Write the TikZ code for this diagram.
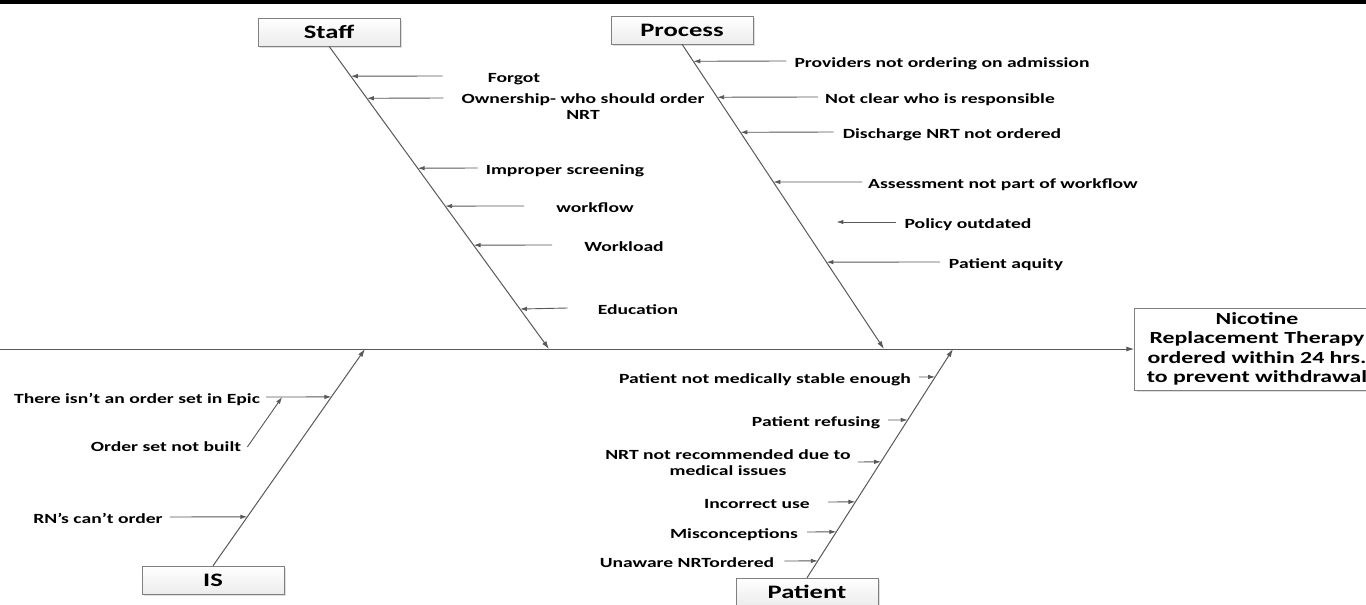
\documentclass[tikz,border=0pt]{standalone}
\usepackage{fontspec}
\setmainfont{Carlito}[FakeStretch=1.4]
\usetikzlibrary{arrows.meta, positioning, calc, shadows}
\definecolor{bonegray}{RGB}{89, 89, 89}
\definecolor{boxline}{RGB}{128, 128, 128}

\begin{document}
\begin{tikzpicture}[
    x=1pt, y=-1pt,
    cat/.style={rectangle, draw=boxline, top color=white, bottom color=gray!15, minimum width=142pt, minimum height=28pt, font=\fontsize{19}{22}\selectfont\bfseries, drop shadow={shadow xshift=2pt, shadow yshift=-2pt, opacity=0.25}},
    effect/.style={rectangle, draw=boxline, fill=white, minimum width=245pt, minimum height=82pt, align=center, font=\fontsize{17}{19.5}\selectfont\bfseries, drop shadow={shadow xshift=2pt, shadow yshift=-2pt, opacity=0.25}},
    cause/.style={font=\fontsize{14}{16}\selectfont\bfseries, inner sep=0pt, text height=12pt, text depth=0pt},
    cause2/.style={font=\fontsize{14}{16}\selectfont\bfseries, align=center, inner sep=0pt},
    bone/.style={-{Latex[length=8pt, width=5pt]}, line width=1pt, bonegray},
    arrow/.style={-{Latex[length=7pt, width=4.5pt]}, line width=0.9pt, bonegray}
  ]
  \useasboundingbox[fill=white] (0,0) rectangle (1366,605);
  \fill[black] (0,0) rectangle (1366,4);

  % Categories and effect
  \node[cat] (staff) at (329,32) {Staff};
  \node[cat] (proc) at (682,30) {Process};
  \node[cat] (is) at (213,580) {IS};
  \node[cat] (pat) at (807,592) {Patient};
  \node[effect] (eff) at (1257,349) {Nicotine\\Replacement Therapy\\ordered within 24 hrs.\\to prevent withdrawal};

  % Spine and bones
  \coordinate (tail) at (0,349);
  \coordinate (stE) at (549,349);
  \coordinate (prE) at (884,349);
  \coordinate (isE) at (365,349);
  \coordinate (paE) at (953,349);
  \draw[bone] (tail) -- (eff);
  \draw[bone] (staff.south) -- (stE);
  \draw[bone] (proc.south) -- (prE);
  \draw[bone] (is.north) -- (isE);
  \draw[bone] (pat.north) -- (paE);

  % Staff
  \node[cause] (forgot) at (514,76) {Forgot};
  \node[cause2] (own) at (583,107) {Ownership- who should order\\NRT};
  \node[cause] (screen) at (565,168) {Improper screening};
  \node[cause] (wflow) at (595,206) {workflow};
  \node[cause] (wload) at (624,245) {Workload};
  \node[cause] (edu) at (638,308) {Education};
  \draw[arrow] ([xshift=-45pt]forgot.west) -- ($(staff.south)!.099!(stE)$);
  \draw[arrow] ([shift={(-18,-9)}]own.west) -- ($(staff.south)!.172!(stE)$);
  \draw[arrow] ([xshift=-8pt]screen.west) -- ($(staff.south)!.403!(stE)$);
  \draw[arrow] ([xshift=-32pt]wflow.west) -- ($(staff.south)!.528!(stE)$);
  \draw[arrow] ([xshift=-32pt]wload.west) -- ($(staff.south)!.657!(stE)$);
  \draw[arrow] ([xshift=-30pt]edu.west) -- ($(staff.south)!.868!(stE)$);

  % Process
  \node[cause] (prov) at (942,61) {Providers not ordering on admission};
  \node[cause] (resp) at (940,97) {Not clear who is responsible};
  \node[cause] (disch) at (952,132) {Discharge NRT not ordered};
  \node[cause] (assess) at (1003,182) {Assessment not part of workflow};
  \node[cause] (policy) at (968,222) {Policy outdated};
  \node[cause] (aquity) at (1006,262) {Patient aquity};
  \draw[arrow] ([xshift=-8pt]prov.west) -- ($(proc.south)!.056!(prE)$);
  \draw[arrow] ([xshift=-7pt]resp.west) -- ($(proc.south)!.174!(prE)$);
  \draw[arrow] ([xshift=-9pt]disch.west) -- ($(proc.south)!.289!(prE)$);
  \draw[arrow] ([xshift=-6pt]assess.west) -- ($(proc.south)!.452!(prE)$);
  \draw[arrow] ([xshift=-8pt]policy.west) -- ++(-60,0);
  \draw[arrow] ([xshift=-9pt]aquity.west) -- ($(proc.south)!.715!(prE)$);

  % IS
  \node[cause] (isnt) at (137,397) {There isn’t an order set in Epic};
  \node[cause] (notbuilt) at (166,445) {Order set not built};
  \node[cause] (rn) at (98,517) {RN’s can’t order};
  \draw[arrow] ([xshift=6pt]isnt.east) -- ($(is.north)!.779!(isE)$);
  \draw[arrow] ([shift={(6,2)}]notbuilt.east) -- ([xshift=22pt]isnt.east);
  \draw[arrow] ([xshift=7pt]rn.east) -- ($(is.north)!.226!(isE)$);

  % Patient
  \node[cause] (stable) at (765,377) {Patient not medically stable enough};
  \node[cause] (refuse) at (816,420) {Patient refusing};
  \node[cause2] (notrec) at (728,463) {NRT not recommended due to\\medical issues};
  \node[cause] (incorrect) at (757,502) {Incorrect use};
  \node[cause] (miscon) at (734,532) {Misconceptions};
  \node[cause] (unaware) at (687,561) {Unaware NRTordered};
  \draw[arrow] ([xshift=8pt]stable.east) -- ($(pat.north)!.878!(paE)$);
  \draw[arrow] ([xshift=8pt]refuse.east) -- ($(pat.north)!.690!(paE)$);
  \draw[arrow] ([shift={(7,-1)}]notrec.east) -- ($(pat.north)!.507!(paE)$);
  \draw[arrow] ([xshift=18pt]incorrect.east) -- ($(pat.north)!.332!(paE)$);
  \draw[arrow] ([xshift=9pt]miscon.east) -- ($(pat.north)!.201!(paE)$);
  \draw[arrow] ([xshift=10pt]unaware.east) -- ($(pat.north)!.074!(paE)$);
\end{tikzpicture}
\end{document}
